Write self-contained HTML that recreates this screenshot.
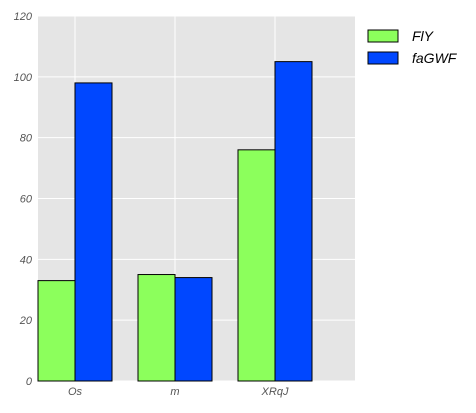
<!DOCTYPE html>
<html><head><meta charset="utf-8"><style>
body{margin:0;background:#fff;}
text{font-family:"Liberation Sans",sans-serif;font-style:italic;}
</style></head><body>
<svg id="c" width="476" height="408" xmlns="http://www.w3.org/2000/svg">
<rect x="38" y="16" width="317" height="365" fill="#e5e5e5"/>
<g id="grid"></g><g id="bars"></g><g id="ticks"></g>
<g>
<rect x="368" y="30" width="30" height="12" fill="#8cff5c" stroke="#000" stroke-width="1"/>
<text x="412" y="41" font-size="14" fill="#000">FlY</text>
<rect x="368" y="52" width="30" height="12" fill="#0047ff" stroke="#000" stroke-width="1"/>
<text x="412" y="63" font-size="14" fill="#000">faGWF</text>
</g>
</svg>
<script>
const categories=["Os","m","XRqJ"];
const flyValues=[33,35,76];
const fagwfValues=[98,34,105];
const yTicks=[0,20,40,60,80,100,120];
const NS="http://www.w3.org/2000/svg";
const x0=38,catW=100,barW=37,yBase=381,yTop=16,yMax=120;
const y=v=>yBase-(v/yMax)*(yBase-yTop);
const xc=i=>x0+i*catW;
function mk(tag,attrs,parent){const e=document.createElementNS(NS,tag);for(const k in attrs)e.setAttribute(k,attrs[k]);document.getElementById(parent).appendChild(e);return e;}
yTicks.forEach(t=>{
 const l=mk('line',{x1:38,x2:355,y1:y(t),y2:y(t),stroke:'#fff','stroke-width':1},'grid');
 
 
 const tx=mk('text',{x:32,y:y(t)+4,'text-anchor':'end','font-size':11,fill:'#555'},'ticks');
 tx.textContent=t;
 
 
});
categories.forEach((c,i)=>{
 const g=mk('line',{x1:xc(i)+barW,x2:xc(i)+barW,y1:16,y2:381,stroke:'#fff','stroke-width':1},'grid');
 
 
 const b1=mk('rect',{x:xc(i),y:y(flyValues[i]),width:barW,height:yBase-y(flyValues[i]),fill:'#8cff5c',stroke:'#000','stroke-width':1},'bars');
 
 
 const b2=mk('rect',{x:xc(i)+barW,y:y(fagwfValues[i]),width:barW,height:yBase-y(fagwfValues[i]),fill:'#0047ff',stroke:'#000','stroke-width':1},'bars');
 
 
 const t=mk('text',{x:xc(i)+barW,y:395,'text-anchor':'middle','font-size':11,fill:'#555'},'ticks');
 t.textContent=c;
 
 
});
</script>
</body></html>
